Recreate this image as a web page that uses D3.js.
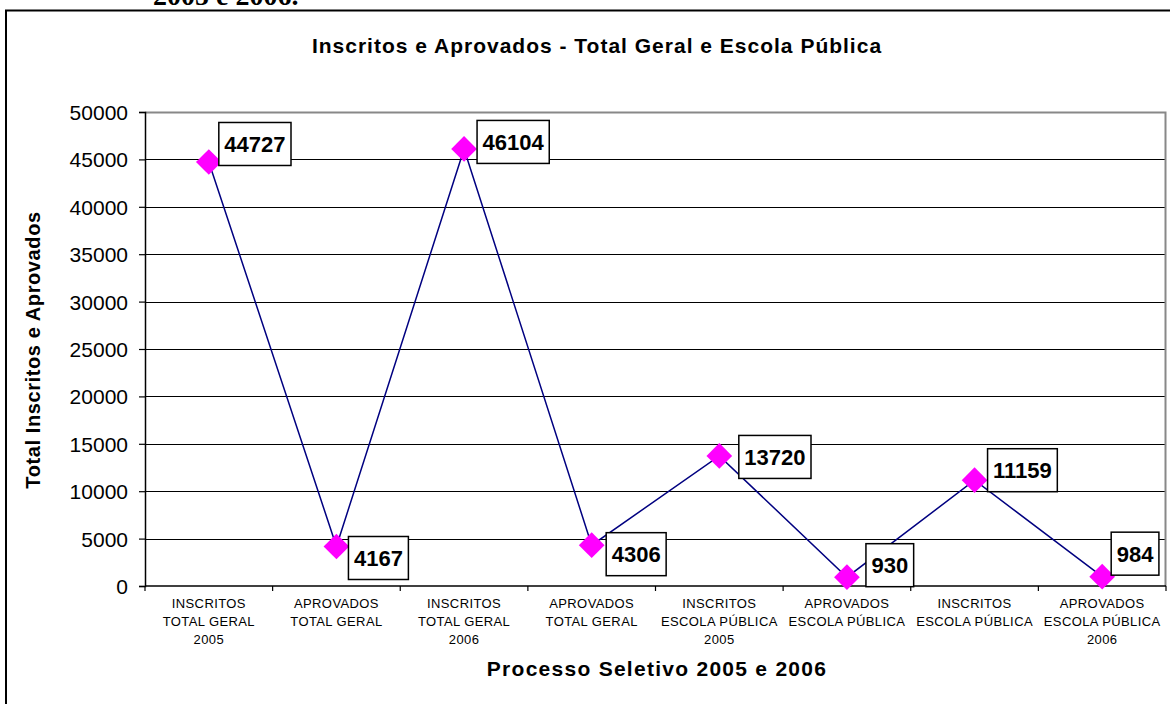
<!DOCTYPE html>
<html>
<head>
<meta charset="utf-8">
<script src="https://cdn.jsdelivr.net/npm/d3@7"></script>
<style>
  html, body { margin: 0; padding: 0; background: #fff; }
  svg { display: block; }
</style>
</head>
<body>
<svg id="chart" width="1170" height="704"></svg>
<script>
// ---- data ----
const categories = [
  ["INSCRITOS", "TOTAL GERAL", "2005"],
  ["APROVADOS", "TOTAL GERAL"],
  ["INSCRITOS", "TOTAL GERAL", "2006"],
  ["APROVADOS", "TOTAL GERAL"],
  ["INSCRITOS", "ESCOLA PÚBLICA", "2005"],
  ["APROVADOS", "ESCOLA PÚBLICA"],
  ["INSCRITOS", "ESCOLA PÚBLICA"],
  ["APROVADOS", "ESCOLA PÚBLICA", "2006"]
];
const values = [44727, 4167, 46104, 4306, 13720, 930, 11159, 984];
const yTicks = [0, 5000, 10000, 15000, 20000, 25000, 30000, 35000, 40000, 45000, 50000];
const chartTitle = "Inscritos e Aprovados - Total Geral e Escola Pública";
const yTitle = "Total Inscritos e Aprovados";
const xTitle = "Processo Seletivo 2005 e 2006";
const captionAbove = "2005 e 2006.";

// ---- layout (label nudges: box left offset, box centre offset, in px) ----
const labelNudge = [[10, -18], [12, 11.5], [13, -7], [14.5, 9], [19.5, 1], [19, -12], [13, -10], [9, -23]];

const FONT = "'Liberation Sans', Arial, sans-serif";
const svg = d3.select("#chart");
const plot = { left: 145, right: 1166, top: 112, bottom: 586 };

const x = d3.scaleBand().domain(d3.range(categories.length)).range([plot.left, plot.right]);
const y = d3.scaleLinear().domain([0, 50000]).range([plot.bottom, plot.top]);

// caption cut at top (from surrounding document)
svg.append("text")
  .attr("x", 153).attr("y", 5)
  .attr("font-family", "'Liberation Serif', 'Times New Roman', serif")
  .attr("font-weight", "bold").attr("font-size", 28)
  .text(captionAbove);

// outer chart border
svg.append("rect")
  .attr("x", 6).attr("y", 10.5).attr("width", 1200).attr("height", 800)
  .attr("fill", "none").attr("stroke", "#000").attr("stroke-width", 2);

// gridlines
svg.append("g").selectAll("line")
  .data(yTicks.filter(t => t > 0 && t < 50000))
  .join("line")
  .attr("x1", plot.left).attr("x2", plot.right)
  .attr("y1", d => Math.round(y(d)) + 0.5).attr("y2", d => Math.round(y(d)) + 0.5)
  .attr("stroke", "#000").attr("stroke-width", 1.2);

// plot border (top & right, gray)
svg.append("path")
  .attr("d", `M${plot.left},${plot.top + 0.5}H${plot.right - 0.5}V${plot.bottom}`)
  .attr("fill", "none").attr("stroke", "#888").attr("stroke-width", 2);

// y axis
const yAxis = svg.append("g")
  .attr("transform", `translate(${plot.left},0)`)
  .call(d3.axisLeft(y).tickValues(yTicks).tickSize(6).tickPadding(11).tickFormat(d3.format("d")));
yAxis.select(".domain").attr("stroke", "#000").attr("stroke-width", 1.5);
yAxis.selectAll(".tick line").attr("stroke", "#000").attr("stroke-width", 1.2);
yAxis.selectAll(".tick text")
  .attr("font-family", FONT)
  .attr("font-size", 21).attr("fill", "#000").attr("dy", "0.36em");

// x axis
const xAxisG = svg.append("g");
xAxisG.append("line")
  .attr("x1", plot.left).attr("x2", plot.right)
  .attr("y1", plot.bottom).attr("y2", plot.bottom)
  .attr("stroke", "#000").attr("stroke-width", 1.5);
const boundaries = d3.range(categories.length + 1).map(i => i < categories.length ? x(i) : x(i - 1) + x.bandwidth());
xAxisG.selectAll("line.tk").data(boundaries).join("line").attr("class", "tk")
  .attr("x1", d => d).attr("x2", d => d)
  .attr("y1", plot.bottom).attr("y2", plot.bottom + 5)
  .attr("stroke", "#000").attr("stroke-width", 1.2);
const catText = xAxisG.selectAll("text.cat").data(categories).join("text").attr("class", "cat")
  .attr("font-family", FONT)
  .attr("font-size", 13).attr("letter-spacing", 0.4).attr("text-anchor", "middle").attr("fill", "#000");
catText.each(function(lines, i) {
  const t = d3.select(this);
  lines.forEach((ln, j) => {
    t.append("tspan").attr("x", x(i) + x.bandwidth() / 2).attr("y", 607.5 + j * 18).text(ln);
  });
});

// line
const line = d3.line().x((d, i) => x(i) + x.bandwidth() / 2).y(d => y(d));
svg.append("path").datum(values)
  .attr("d", line).attr("fill", "none")
  .attr("stroke", "#000080").attr("stroke-width", 1.5);

// markers (diamonds)
svg.append("g").selectAll("path").data(values).join("path")
  .attr("transform", (d, i) => `translate(${x(i) + x.bandwidth() / 2},${y(d)}) rotate(45)`)
  .attr("d", d3.symbol().type(d3.symbolSquare).size(330))
  .attr("fill", "#FF00FF");

// data labels
const lblG = svg.append("g");
values.forEach((v, i) => {
  const px = x(i) + x.bandwidth() / 2, py = y(v);
  const [dx, dy] = labelNudge[i];
  const g = lblG.append("g");
  const rect = g.append("rect");
  const t = g.append("text")
    .attr("font-family", FONT)
    .attr("font-weight", "bold").attr("font-size", 22).attr("fill", "#000")
    .text(v);
  const tw = t.node().getComputedTextLength();
  const bw = tw + 11, bh = 43;
  const bx = px + dx, by = py + dy - bh / 2;
  rect.attr("x", bx).attr("y", by).attr("width", bw).attr("height", bh)
    .attr("fill", "#fff").attr("stroke", "#000").attr("stroke-width", 1.5);
  t.attr("x", bx + 5.5).attr("y", by + bh / 2 + 8);
});

// titles
svg.append("text")
  .attr("x", 597).attr("y", 53)
  .attr("text-anchor", "middle")
  .attr("font-family", FONT)
  .attr("font-weight", "bold").attr("font-size", 21).attr("letter-spacing", 1.0)
  .text(chartTitle);

svg.append("text")
  .attr("transform", "translate(40,350) rotate(-90)")
  .attr("text-anchor", "middle")
  .attr("font-family", FONT)
  .attr("font-weight", "bold").attr("font-size", 20).attr("letter-spacing", 0.6)
  .text(yTitle);

svg.append("text")
  .attr("x", 657).attr("y", 676)
  .attr("text-anchor", "middle")
  .attr("font-family", FONT)
  .attr("font-weight", "bold").attr("font-size", 21).attr("letter-spacing", 1.27)
  .text(xTitle);
</script>
</body>
</html>
